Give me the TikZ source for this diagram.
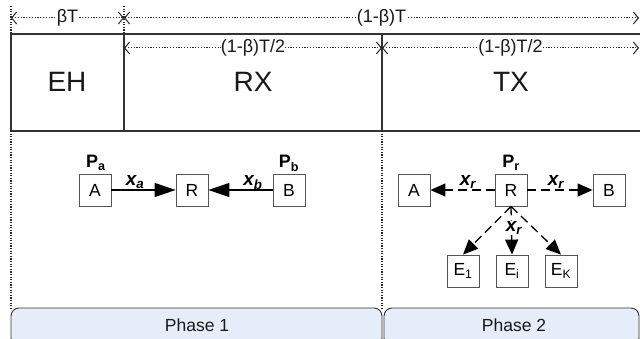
\documentclass[tikz,border=0pt]{standalone}
\usepackage{fontspec}
\setmainfont{Liberation Sans}
\usetikzlibrary{arrows.meta}
\definecolor{boxline}{HTML}{333333}
\definecolor{phasefill}{HTML}{E7EDF8}
\definecolor{nodeline}{HTML}{555555}
\tikzset{
  frame/.style={line width=2.2pt, draw=boxline, line join=miter},
  dimline/.style={dash pattern=on 1.3pt off 1.5pt, line width=1pt, draw=black!85,
    {Straight Barb[length=5pt,width=12pt,line width=1pt]}-{Straight Barb[length=5pt,width=12pt,line width=1pt]}},
  dimlabel/.style={fill=white, inner sep=0.3pt, text=black!90, font=\fontsize{18}{20}\selectfont},
  tick/.style={dash pattern=on 1.3pt off 1.3pt, line width=1.2pt, draw=black!85},
  biglabel/.style={font=\fontsize{28}{30}\selectfont, text=black!90},
  nodebox/.style={draw=nodeline, fill=white, line width=0.8pt, minimum width=32pt, minimum height=32pt, inner sep=0pt, font=\fontsize{17.5}{18}\selectfont},
  plabel/.style={anchor=base, inner sep=0pt, font=\fontsize{18}{18}\selectfont\bfseries},
  xlabel/.style={anchor=base, inner sep=1pt, font=\fontsize{19}{18}\selectfont\bfseries\itshape},
  solidarrow/.style={line width=1.3pt, -{Triangle[length=21pt,width=14pt]}},
  dasharrow/.style={line width=1.3pt, dash pattern=on 9pt off 5pt, -{Triangle[length=15pt,width=13pt]}},
  phasebox/.style={draw=boxline, fill=phasefill, line width=0.9pt, rounded corners=8pt},
  phaselabel/.style={font=\fontsize{17.5}{18}\selectfont, text=black!90}
}
\begin{document}
\begin{tikzpicture}[x=1pt,y=-1pt]
\useasboundingbox (0,0) rectangle (640,339);
\begin{scope}
\clip (0,0) rectangle (640,339);
% phase boxes
\draw[phasebox] (11,308) rectangle (382,346);
\draw[phasebox] (384,308) rectangle (639,346);
\node[phaselabel] (ph1) at (197,325) {Phase 1};
\node[phaselabel] (ph2) at (514,325) {Phase 2};
% main frame
\draw[frame] (641,34) -- (11,34) -- (11,131) -- (641,131);
\draw[frame] (124,34) -- (124,131);
\draw[frame] (382,34) -- (382,131);
\node[biglabel] (eh) at (67,82) {EH};
\node[biglabel] (rx) at (253,82) {RX};
\node[biglabel] (tx) at (511,82) {TX};
% ticks
\coordinate (t0) at (11,6);
\coordinate (t0b) at (11,34);
\coordinate (t1) at (124,6);
\coordinate (t1b) at (124,34);
\draw[tick] (t0) -- (t0b);
\draw[tick] (t1) -- (t1b);
\coordinate (v0) at (11,131);
\coordinate (v0b) at (11,308);
\coordinate (v1) at (382,131);
\coordinate (v1b) at (382,308);
\draw[tick] (v0) -- (v0b);
\draw[tick] (v1) -- (v1b);
% dimension lines
\coordinate (d0) at (11,18);
\coordinate (d1) at (124,18);
\coordinate (d2) at (639,18);
\coordinate (e1) at (124,48);
\coordinate (e2) at (382,48);
\coordinate (e3) at (639,48);
\draw[dimline] (d0) -- node[dimlabel] (lbt) {βT} (d1);
\draw[dimline] (d1) -- node[dimlabel] (l1bt) {(1-β)T} (d2);
\draw[dimline] (e1) -- node[dimlabel] (lh1) {(1-β)T/2} (e2);
\draw[dimline] (e2) -- node[dimlabel] (lh2) {(1-β)T/2} (e3);
\end{scope}
% phase 1
\node[nodebox] (A1) at (95,190) {A};
\node[nodebox] (R1) at (192,190) {R};
\node[nodebox] (B1) at (289,190) {B};
\draw[solidarrow] (A1) -- (R1);
\draw[solidarrow] (B1) -- (R1);
\node[plabel] (pa) at (96,168) {P\textsubscript{a}};
\node[plabel] (pb) at (289,168) {P\textsubscript{b}};
\node[xlabel] (xa) at (135,186) {x\textsubscript{a}};
\node[xlabel] (xb) at (253,186) {x\textsubscript{b}};
% phase 2
\node[nodebox] (A2) at (414,190) {A};
\node[nodebox] (R2) at (511,190) {R};
\node[nodebox] (B2) at (609,190) {B};
\node[nodebox] (E1) at (463,271) {E\textsubscript{1}};
\node[nodebox] (Ei) at (512,271) {E\textsubscript{i}};
\node[nodebox] (EK) at (561,271) {E\textsubscript{K}};
\draw[dasharrow] (R2) -- (A2);
\draw[dasharrow] (R2) -- (B2);
\draw[dasharrow] (R2.south) -- (E1.north);
\draw[dasharrow] (R2.south) -- (Ei.north);
\draw[dasharrow] (R2.south) -- (EK.north);
\node[plabel] (pr) at (511,168) {P\textsubscript{r}};
\node[xlabel] (xr1) at (468,186) {x\textsubscript{r}};
\node[xlabel] (xr2) at (556,186) {x\textsubscript{r}};
\node[xlabel, fill=white, inner sep=0.5pt] (xr3) at (514,232) {x\textsubscript{r}};
\end{tikzpicture}
\end{document}
